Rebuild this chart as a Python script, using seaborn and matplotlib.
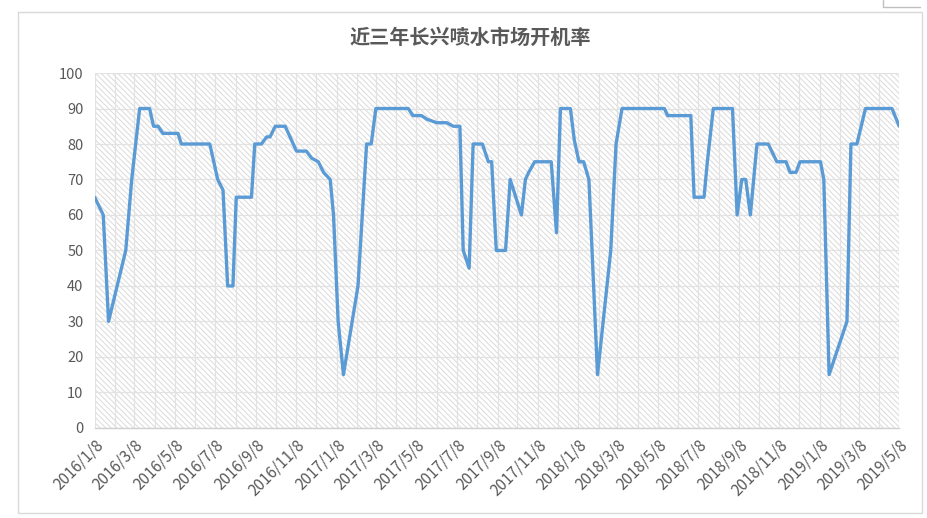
import numpy as np
import pandas as pd
import matplotlib
matplotlib.use('Agg')
import matplotlib.pyplot as plt
import matplotlib.dates as mdates
from matplotlib.patches import Rectangle
from matplotlib.lines import Line2D
import seaborn as sns

# data
dates = ['2016-01-08', '2016-01-21', '2016-01-29', '2016-02-24', '2016-03-04', '2016-03-16',
         '2016-03-31', '2016-04-06', '2016-04-13', '2016-04-20', '2016-05-13', '2016-05-18',
         '2016-06-30', '2016-07-12', '2016-07-20', '2016-07-27', '2016-08-04', '2016-08-09',
         '2016-09-01', '2016-09-06', '2016-09-16', '2016-09-24', '2016-09-29', '2016-10-07',
         '2016-10-22', '2016-11-08', '2016-11-23', '2016-12-01', '2016-12-11', '2016-12-19',
         '2016-12-29', '2017-01-03', '2017-01-10', '2017-01-18', '2017-02-09', '2017-02-22',
         '2017-03-01', '2017-03-08', '2017-04-26', '2017-05-03', '2017-05-16', '2017-05-24',
         '2017-06-08', '2017-06-23', '2017-07-03', '2017-07-13', '2017-07-18', '2017-07-27',
         '2017-08-02', '2017-08-16', '2017-08-25', '2017-08-30', '2017-09-06', '2017-09-20',
         '2017-09-27', '2017-10-14', '2017-10-20', '2017-10-25', '2017-11-03', '2017-11-28',
         '2017-12-06', '2017-12-12', '2017-12-27', '2018-01-02', '2018-01-09', '2018-01-16',
         '2018-01-24', '2018-02-06', '2018-02-26', '2018-03-06', '2018-03-15', '2018-05-18',
         '2018-05-23', '2018-06-27', '2018-07-02', '2018-07-17', '2018-07-22', '2018-07-31',
         '2018-08-29', '2018-09-05', '2018-09-12', '2018-09-18', '2018-09-25', '2018-10-05',
         '2018-10-22', '2018-11-04', '2018-11-18', '2018-11-24', '2018-12-03', '2018-12-09',
         '2019-01-09', '2019-01-14', '2019-01-22', '2019-02-18', '2019-02-24', '2019-03-05',
         '2019-03-18', '2019-04-27', '2019-05-08']
rate = [65, 60, 30, 50, 70, 90,
        90, 85, 85, 83, 83, 80,
        80, 70, 67, 40, 40, 65,
        65, 80, 80, 82, 82, 85,
        85, 78, 78, 76, 75, 72,
        70, 60, 30, 15, 40, 80,
        80, 90, 90, 88, 88, 87,
        86, 86, 85, 85, 50, 45,
        80, 80, 75, 75, 50, 50,
        70, 60, 70, 72, 75, 75,
        55, 90, 90, 81, 75, 75,
        70, 15, 50, 80, 90, 90,
        88, 88, 65, 65, 75, 90,
        90, 60, 70, 70, 60, 80,
        80, 75, 75, 72, 72, 75,
        75, 70, 15, 30, 80, 80,
        90, 90, 85]
title = '近三年长兴喷水市场开机率'
yticks = list(range(0, 101, 10))

df = pd.DataFrame({'date': pd.to_datetime(dates), 'rate': rate})

sns.set_style('white')
plt.rcParams['font.family'] = ['Noto Sans CJK SC', 'DejaVu Sans']
plt.rcParams['hatch.linewidth'] = 0.7

fig = plt.figure(figsize=(9.28, 5.18), dpi=100)
ax = fig.add_axes([0.102, 0.174, 0.867, 0.685])

# hatched plot background
ax.add_patch(Rectangle((0, 0), 1, 1, transform=ax.transAxes, facecolor='white',
                       edgecolor='#dadada', hatch='\\' * 6, lw=0, zorder=0))

sns.lineplot(data=df, x='date', y='rate', color='#5B9BD5', lw=2.4, ax=ax, zorder=3)

ax.set_xlim(pd.Timestamp('2016-01-08'), pd.Timestamp('2019-05-08'))
ax.set_ylim(0, 100)
ax.set_yticks(yticks)
ax.xaxis.set_major_locator(mdates.MonthLocator(bymonth=[1, 3, 5, 7, 9, 11], bymonthday=8))
ax.xaxis.set_minor_locator(mdates.MonthLocator(bymonthday=8))
ax.xaxis.set_major_formatter(mdates.DateFormatter('%Y/%-m/%-d'))

ax.grid(True, which='both', color='#e2e2e2', lw=0.9, zorder=1)
ax.set_axisbelow(True)
for s in ['top', 'right', 'left']:
    ax.spines[s].set_visible(False)
ax.spines['bottom'].set_color('#d0d0d0')
ax.spines['bottom'].set_linewidth(1)

ax.tick_params(axis='x', which='major', length=4, color='#d0d0d0', labelsize=11,
               labelcolor='#595959', pad=2)
ax.tick_params(axis='x', which='minor', length=0)
ax.tick_params(axis='y', length=0, labelsize=10.5, labelcolor='#595959', pad=8)
for lab in ax.get_xticklabels():
    lab.set_rotation(45)
    lab.set_ha('right')
    lab.set_rotation_mode('anchor')
ax.set_xlabel('')
ax.set_ylabel('')

fig.text(0.507, 0.927, title, ha='center', va='center', fontsize=14.5,
         color='#595959', fontweight='bold')

# chart frame
fig.patches.append(Rectangle((0.0194, 0.0097), 0.974, 0.967, transform=fig.transFigure,
                             fill=False, edgecolor='#d9d9d9', lw=1))
fig.lines.append(Line2D([0.951, 0.951, 0.991], [1.0, 0.986, 0.986], transform=fig.transFigure,
                        color='#bfbfbf', lw=1))

fig.savefig('out.png', dpi=100)
